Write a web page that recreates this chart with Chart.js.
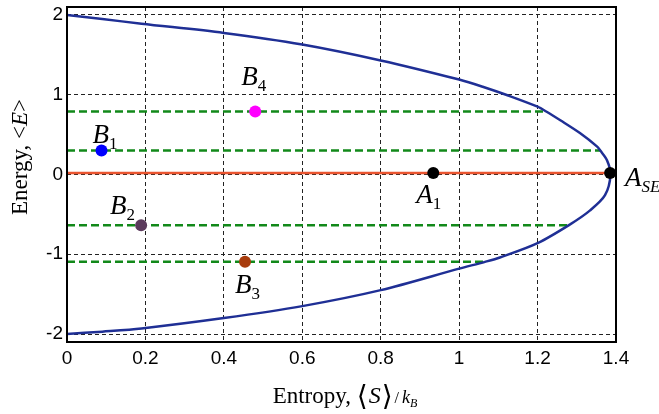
<!DOCTYPE html>
<html>
<head>
<meta charset="utf-8">
<script src="https://cdn.jsdelivr.net/npm/chart.js@4.4.1/dist/chart.umd.min.js"></script>
<style>
  html, body { margin: 0; padding: 0; background: #fff; }
  #wrap { width: 659px; height: 414px; position: relative; }
</style>
</head>
<body>
<div id="wrap"><canvas id="chart"></canvas></div>
<script>
// axis ticks
const xTicks = [0, 0.2, 0.4, 0.6, 0.8, 1, 1.2, 1.4];
const yTicks = [-2, -1, 0, 1, 2];

// boundary curve, traced from E = 2 round the right side down to E = -2
const curveS = [0, 0.09, 0.19, 0.4, 0.6, 0.8, 1.0, 1.06, 1.125, 1.2, 1.222, 1.258, 1.308, 1.352, 1.36, 1.377, 1.386,
                1.372, 1.334, 1.283, 1.2, 1.104, 1.066, 1.0, 0.8, 0.6, 0.4, 0.19, 0.09, 0];
const curveE = [2.0, 1.95, 1.89, 1.775, 1.63, 1.43, 1.19, 1.10, 0.99, 0.85, 0.79, 0.68, 0.52, 0.35, 0.30, 0.18, 0,
                -0.26, -0.45, -0.625, -0.86, -1.04, -1.095, -1.18, -1.45, -1.65, -1.80, -1.93, -1.97, -2.0];

// dashed green energy levels and where they meet the curve
const levelE = [0.79, 0.30, -0.635, -1.095];
const levelEnd = [1.222, 1.36, 1.283, 1.066];

// solid red level
const redE = 0.02;
const redEnd = 1.385;

// labelled states
const pointNames = ['B', 'B', 'B', 'B', 'A', 'A'];
const pointSubs = ['1', '2', '3', '4', '1', 'SE'];
const pointS = [0.088, 0.189, 0.454, 0.48, 0.934, 1.385];
const pointE = [0.30, -0.635, -1.095, 0.79, 0.02, 0.02];
const pointColors = ['#0000ff', '#5b3a5c', '#a83c0c', '#ff00ff', '#000000', '#000000'];
// label offset from its point, px (left edge / baseline of the letter)
const labelDx = [-9, -31, -10, -14, -17, 15];
const labelDy = [-8, -11, 31, -26, 30, 13];

const serif = '"Liberation Serif", "DejaVu Serif", serif';
const sans = '"Liberation Sans", Arial, sans-serif';

const datasets = [];

datasets.push({
  label: 'states',
  data: pointS.map((s, i) => ({ x: s, y: pointE[i] })),
  showLine: false,
  pointRadius: 6,
  pointBackgroundColor: pointColors,
  pointBorderColor: pointColors,
  pointBorderWidth: 0,
  order: 0
});

datasets.push({
  label: 'curve',
  data: curveS.map((s, i) => ({ x: s, y: curveE[i] })),
  showLine: true,
  borderColor: '#1f2f95',
  borderWidth: 2.5,
  pointRadius: 0,
  tension: 0.3,
  order: 1
});

datasets.push({
  label: 'red',
  data: [{ x: 0, y: redE }, { x: redEnd, y: redE }],
  showLine: true,
  borderColor: '#ea5530',
  borderWidth: 2.5,
  pointRadius: 0,
  order: 2
});

levelE.forEach((e, i) => {
  datasets.push({
    label: 'level' + i,
    data: [{ x: 0, y: e }, { x: levelEnd[i], y: e }],
    showLine: true,
    borderColor: '#12891a',
    borderWidth: 2.5,
    borderDash: [8, 4],
    pointRadius: 0,
    order: 3
  });
});

// draw a run of text pieces, each with its own font and vertical shift
function drawRuns(ctx, runs, x, y) {
  let cx = x;
  runs.forEach(r => {
    ctx.font = r.font;
    ctx.fillText(r.text, cx + (r.dx || 0), y + (r.dy || 0));
    cx += ctx.measureText(r.text).width + (r.dx || 0);
  });
}

function runsWidth(ctx, runs) {
  let w = 0;
  runs.forEach(r => { ctx.font = r.font; w += ctx.measureText(r.text).width + (r.dx || 0); });
  return w;
}

const decor = {
  id: 'decor',
  afterDraw(chart) {
    const ctx = chart.ctx;
    const a = chart.chartArea;
    const xs = chart.scales.x, ys = chart.scales.y;
    ctx.save();

    // frame
    ctx.strokeStyle = '#000';
    ctx.lineWidth = 2;
    ctx.setLineDash([]);
    ctx.strokeRect(a.left, a.top, a.right - a.left, a.bottom - a.top);

    ctx.fillStyle = '#000';
    ctx.textBaseline = 'alphabetic';
    ctx.textAlign = 'left';

    // point labels
    pointS.forEach((s, i) => {
      const px = xs.getPixelForValue(s) + labelDx[i];
      const py = ys.getPixelForValue(pointE[i]) + labelDy[i];
      drawRuns(ctx, [
        { text: pointNames[i], font: 'italic 27px ' + serif },
        { text: pointSubs[i], font: (pointSubs[i] === 'SE' ? 'italic ' : '') + '17px ' + serif, dy: 6 }
      ], px, py);
    });

    // x title
    const xRuns = [
      { text: 'Entropy, ', font: '23px ' + serif },
      { text: '\u27E8', font: '28px ' + serif, dy: 2 },
      { text: 'S', font: 'italic 24px ' + serif, dx: 1 },
      { text: '\u27E9', font: '28px ' + serif, dy: 2, dx: 1 },
      { text: '/', font: '16px ' + serif, dx: 2 },
      { text: 'k', font: 'italic 18px ' + serif, dx: 3 },
      { text: 'B', font: 'italic 12px ' + serif, dy: 4 }
    ];
    const xw = runsWidth(ctx, xRuns);
    drawRuns(ctx, xRuns, 345 - xw / 2, 403);

    // y title
    const yRuns = [
      { text: 'Energy, <', font: '23px ' + serif },
      { text: 'E', font: 'italic 23px ' + serif },
      { text: '>', font: '23px ' + serif }
    ];
    const yw = runsWidth(ctx, yRuns);
    ctx.translate(27, 157);
    ctx.rotate(-Math.PI / 2);
    drawRuns(ctx, yRuns, -yw / 2, 0);

    ctx.restore();
  }
};

new Chart(document.getElementById('chart'), {
  type: 'scatter',
  data: { datasets: datasets },
  options: {
    responsive: true,
    maintainAspectRatio: false,
    animation: false,
    layout: { padding: { top: 7, right: 43, left: 0, bottom: 0 } },
    plugins: { legend: { display: false }, tooltip: { enabled: false } },
    scales: {
      x: {
        type: 'linear',
        min: 0,
        max: 1.4,
        afterBuildTicks: s => { s.ticks = xTicks.map(v => ({ value: v })); },
        afterFit: s => { s.height = 72; s.paddingLeft = 0; s.paddingRight = 0; },
        grid: { color: '#222', lineWidth: 1, drawTicks: false },
        border: { display: false, dash: [4, 3] },
        ticks: {
          color: '#000',
          padding: 5,
          maxRotation: 0,
          font: { family: sans, size: 19 },
          callback: v => String(Math.round(v * 10) / 10)
        }
      },
      y: {
        type: 'linear',
        min: -2.1,
        max: 2.1,
        afterBuildTicks: s => { s.ticks = yTicks.map(v => ({ value: v })); },
        afterFit: s => { s.width = 67; s.paddingTop = 0; s.paddingBottom = 0; },
        grid: { color: '#222', lineWidth: 1, drawTicks: false },
        border: { display: false, dash: [4, 3] },
        ticks: {
          color: '#000',
          padding: 4,
          font: { family: sans, size: 19 },
          callback: v => String(v)
        }
      }
    }
  },
  plugins: [decor]
});
</script>
</body>
</html>
